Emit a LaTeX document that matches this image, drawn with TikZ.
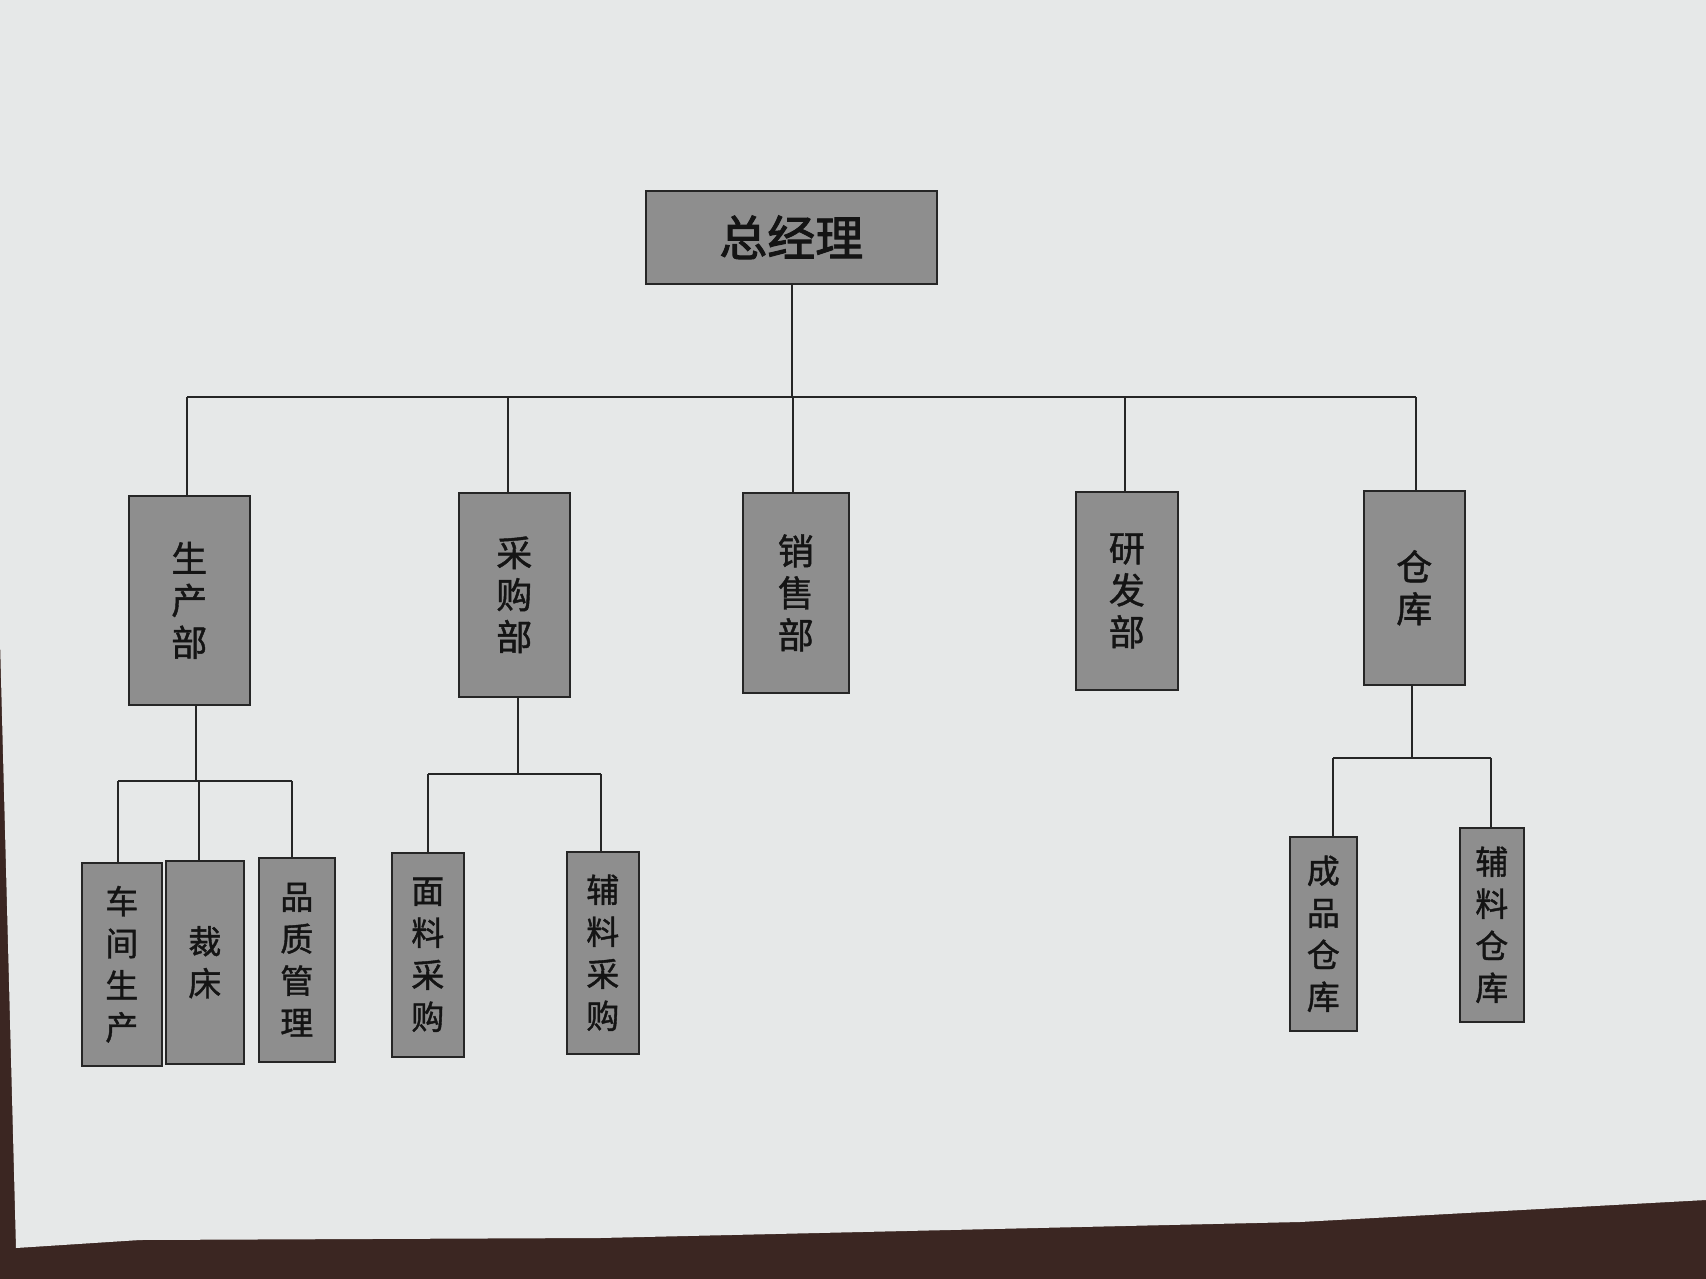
\documentclass[tikz,border=0pt]{standalone}
\usepackage{fontspec}
\setmainfont{Noto Sans CJK SC}
\newfontfamily\boxfont[FakeBold=1.2]{Noto Sans CJK SC}
\newfontfamily\topfont[FakeBold=2]{Noto Sans CJK SC}
\begin{document}
\begin{tikzpicture}[x=1pt,y=-1pt,
  box/.style={draw=black!85,line width=1.6pt,fill=boxgray,text=black!92,
    inner sep=0pt,align=center,anchor=north west},
  dept/.style={box,font=\boxfont\fontsize{36}{42}\selectfont},
  sub/.style={box,font=\boxfont\fontsize{33}{42}\selectfont},
  wire/.style={draw=black!85,line width=1.8pt}]
\definecolor{boxgray}{HTML}{8E8E8E}
\definecolor{paper}{HTML}{E6E8E8}
\definecolor{desk}{HTML}{3B2622}
\useasboundingbox (0,0) rectangle (1706,1279);
\fill[desk] (0,0) rectangle (1706,1279);
\fill[paper] (0,0) -- (1706,0) -- (1706,1200) -- (1300,1222) -- (600,1238) -- (140,1240) -- (16,1248) -- (0,640) -- cycle;
% top
\node[box,font=\topfont\fontsize{48}{56}\selectfont,minimum width=291pt,minimum height=93pt] (gm) at (645,190) {总经理};
% departments
\node[dept,minimum width=121pt,minimum height=209pt] (prod) at (128,495) {生\\产\\部};
\node[dept,minimum width=111pt,minimum height=204pt] (purch) at (458,492) {采\\购\\部};
\node[dept,minimum width=106pt,minimum height=200pt] (sales) at (742,492) {销\\售\\部};
\node[dept,minimum width=102pt,minimum height=198pt] (rd) at (1075,491) {研\\发\\部};
\node[dept,minimum width=101pt,minimum height=194pt] (wh) at (1363,490) {仓\\库};
% sub units
\node[sub,minimum width=80pt,minimum height=203pt] (ws) at (81,862) {车\\间\\生\\产};
\node[sub,minimum width=78pt,minimum height=203pt] (cut) at (165,860) {裁\\床};
\node[sub,minimum width=76pt,minimum height=204pt] (qc) at (258,857) {品\\质\\管\\理};
\node[sub,minimum width=72pt,minimum height=204pt] (fab) at (391,852) {面\\料\\采\\购};
\node[sub,minimum width=72pt,minimum height=202pt] (acc) at (566,851) {辅\\料\\采\\购};
\node[sub,minimum width=67pt,minimum height=194pt] (fin) at (1289,836) {成\\品\\仓\\库};
\node[sub,minimum width=64pt,minimum height=194pt] (accw) at (1459,827) {辅\\料\\仓\\库};
% bus coordinates
\coordinate (bus) at (792,397);
\coordinate (busL) at (187,397);
\coordinate (busR) at (1416,397);
\coordinate (pbus) at (196,781);
\coordinate (pbusL) at (118,781);
\coordinate (pbusR) at (292,781);
\coordinate (cbus) at (518,774);
\coordinate (cbusL) at (428,774);
\coordinate (cbusR) at (601,774);
\coordinate (wbus) at (1412,758);
\coordinate (wbusL) at (1333,758);
\coordinate (wbusR) at (1491,758);
% level 1
\draw[wire] (gm.south -| bus) -- (bus);
\draw[wire] (busL) -- (busR);
\draw[wire] (busL) -- (prod.north -| busL);
\draw[wire] (bus -| 508,0) -- (purch.north -| 508,0);
\draw[wire] (bus -| 793,0) -- (sales.north -| 793,0);
\draw[wire] (bus -| 1125,0) -- (rd.north -| 1125,0);
\draw[wire] (busR) -- (wh.north -| busR);
% production
\draw[wire] (prod.south -| pbus) -- (pbus);
\draw[wire] (pbusL) -- (pbusR);
\draw[wire] (pbusL) -- (ws.north -| pbusL);
\draw[wire] (pbus -| 199,0) -- (cut.north -| 199,0);
\draw[wire] (pbusR) -- (qc.north -| pbusR);
% purchasing
\draw[wire] (purch.south -| cbus) -- (cbus);
\draw[wire] (cbusL) -- (cbusR);
\draw[wire] (cbusL) -- (fab.north -| cbusL);
\draw[wire] (cbusR) -- (acc.north -| cbusR);
% warehouse
\draw[wire] (wh.south -| wbus) -- (wbus);
\draw[wire] (wbusL) -- (wbusR);
\draw[wire] (wbusL) -- (fin.north -| wbusL);
\draw[wire] (wbusR) -- (accw.north -| wbusR);
\end{tikzpicture}
\end{document}
